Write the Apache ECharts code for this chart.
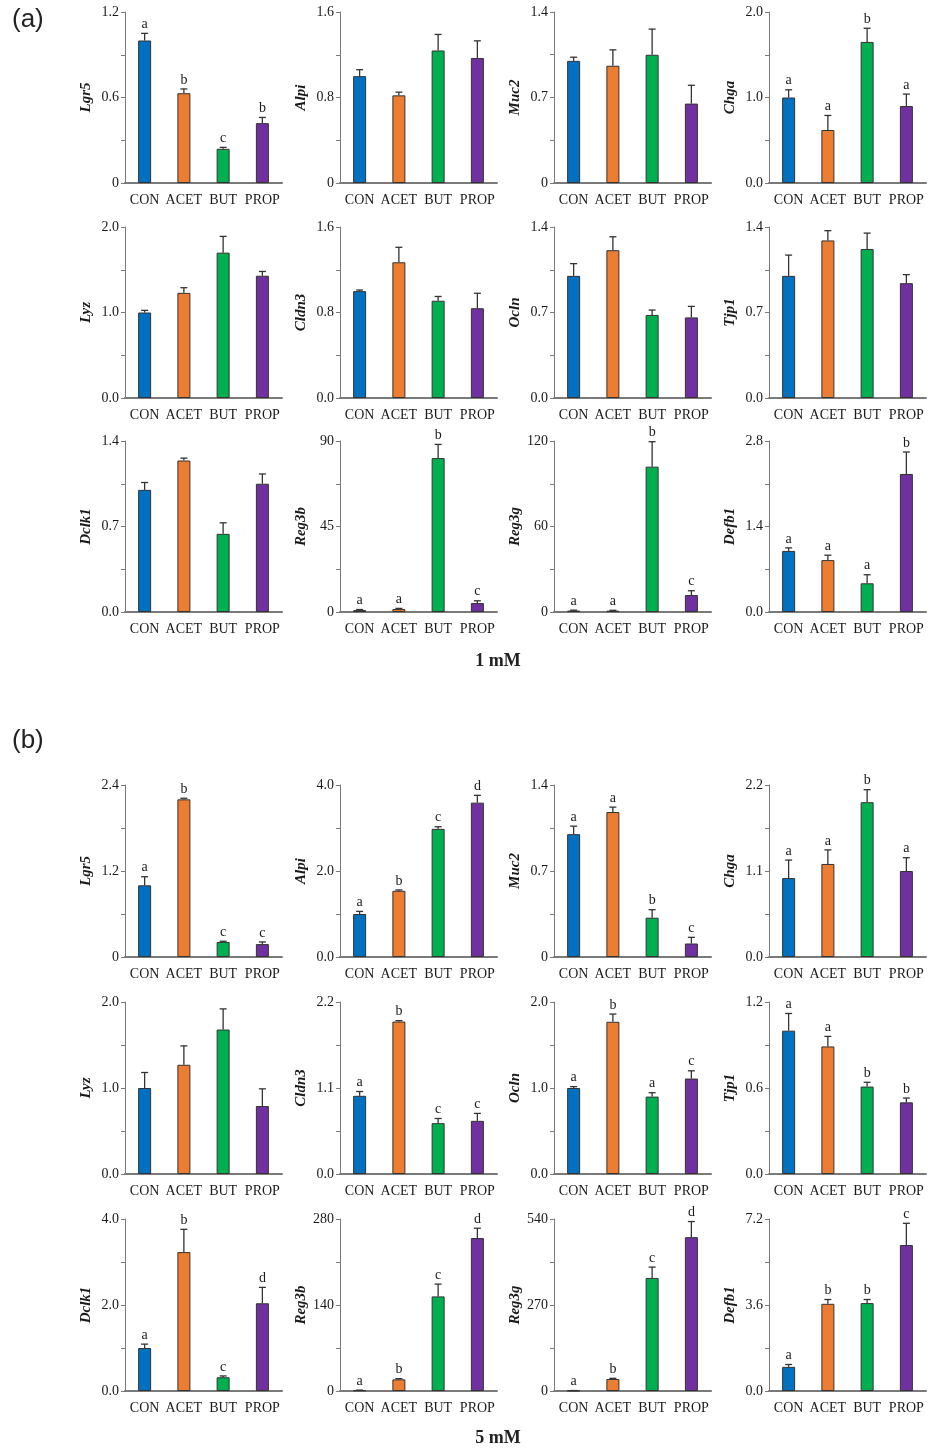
<!DOCTYPE html>
<html>
<head>
<meta charset="utf-8">
<script src="https://cdn.jsdelivr.net/npm/echarts@6/dist/echarts.min.js"></script>
<style>
html,body{margin:0;padding:0;background:#fff;}
#chart{width:933px;height:1450px;}
</style>
</head>
<body>
<div id="chart"></div>
<script>
const CATEGORIES = ['CON', 'ACET', 'BUT', 'PROP'];
const BAR_COLORS = ['#0070C0', '#ED7D31', '#00B050', '#7030A0'];
const GENES = ['Lgr5', 'Alpi', 'Muc2', 'Chga', 'Lyz', 'Cldn3', 'Ocln', 'Tjp1', 'Dclk1', 'Reg3b', 'Reg3g', 'Defb1'];

// ---- 1 mM ----
const MEAN_1MM = [
  [1.00, 0.63, 0.24, 0.42],
  [1.00, 0.82, 1.24, 1.17],
  [1.00, 0.96, 1.05, 0.65],
  [1.00, 0.62, 1.65, 0.90],
  [1.00, 1.23, 1.70, 1.43],
  [1.00, 1.27, 0.91, 0.84],
  [1.00, 1.21, 0.68, 0.66],
  [1.00, 1.29, 1.22, 0.94],
  [1.00, 1.24, 0.64, 1.05],
  [1.0, 1.6, 81.0, 4.7],
  [1.0, 0.9, 102, 11.9],
  [1.00, 0.85, 0.47, 2.26]
];
const ERR_1MM = [
  [0.05, 0.03, 0.01, 0.04],
  [0.06, 0.03, 0.15, 0.16],
  [0.03, 0.13, 0.21, 0.15],
  [0.09, 0.17, 0.16, 0.14],
  [0.025, 0.06, 0.19, 0.05],
  [0.01, 0.14, 0.04, 0.14],
  [0.10, 0.11, 0.04, 0.09],
  [0.17, 0.08, 0.13, 0.07],
  [0.06, 0.02, 0.09, 0.08],
  [0.3, 0.3, 7.2, 1.2],
  [0.3, 0.3, 17.5, 3.0],
  [0.05, 0.08, 0.14, 0.36]
];
const LETTERS_1MM = [
  ['a', 'b', 'c', 'b'], [], [], ['a', 'a', 'b', 'a'],
  [], [], [], [],
  [], ['a', 'a', 'b', 'c'], ['a', 'a', 'b', 'c'], ['a', 'a', 'a', 'b']
];
const AXIS_MAX_1MM = [1.2, 1.6, 1.4, 2.0, 2.0, 1.6, 1.4, 1.4, 1.4, 90, 120, 2.8];
const TICK_LABELS_1MM = [
  ['0', '0.6', '1.2'], ['0', '0.8', '1.6'], ['0', '0.7', '1.4'], ['0.0', '1.0', '2.0'],
  ['0.0', '1.0', '2.0'], ['0.0', '0.8', '1.6'], ['0.0', '0.7', '1.4'], ['0.0', '0.7', '1.4'],
  ['0.0', '0.7', '1.4'], ['0', '45', '90'], ['0', '60', '120'], ['0.0', '1.4', '2.8']
];

// ---- 5 mM ----
const MEAN_5MM = [
  [1.00, 2.20, 0.21, 0.18],
  [1.00, 1.54, 2.98, 3.59],
  [1.00, 1.18, 0.32, 0.11],
  [1.01, 1.19, 1.98, 1.10],
  [1.00, 1.27, 1.68, 0.79],
  [1.00, 1.95, 0.65, 0.68],
  [1.00, 1.77, 0.90, 1.11],
  [1.00, 0.89, 0.61, 0.50],
  [1.00, 3.23, 0.32, 2.04],
  [1.0, 19.0, 154, 249],
  [1.0, 37.7, 355, 483],
  [1.01, 3.65, 3.68, 6.11]
];
const ERR_5MM = [
  [0.12, 0.015, 0.01, 0.03],
  [0.06, 0.02, 0.05, 0.17],
  [0.065, 0.04, 0.065, 0.05],
  [0.23, 0.18, 0.16, 0.17],
  [0.18, 0.22, 0.24, 0.20],
  [0.055, 0.012, 0.06, 0.095],
  [0.016, 0.09, 0.045, 0.09],
  [0.12, 0.07, 0.03, 0.03],
  [0.09, 0.53, 0.03, 0.37],
  [0.5, 1.1, 20, 16],
  [0.5, 2.1, 34, 49],
  [0.10, 0.18, 0.15, 0.91]
];
const LETTERS_5MM = [
  ['a', 'b', 'c', 'c'], ['a', 'b', 'c', 'd'], ['a', 'a', 'b', 'c'], ['a', 'a', 'b', 'a'],
  [], ['a', 'b', 'c', 'c'], ['a', 'b', 'a', 'c'], ['a', 'a', 'b', 'b'],
  ['a', 'b', 'c', 'd'], ['a', 'b', 'c', 'd'], ['a', 'b', 'c', 'd'], ['a', 'b', 'b', 'c']
];
const AXIS_MAX_5MM = [2.4, 4.0, 1.4, 2.2, 2.0, 2.2, 2.0, 1.2, 4.0, 280, 540, 7.2];
const TICK_LABELS_5MM = [
  ['0', '1.2', '2.4'], ['0.0', '2.0', '4.0'], ['0', '0.7', '1.4'], ['0.0', '1.1', '2.2'],
  ['0.0', '1.0', '2.0'], ['0.0', '1.1', '2.2'], ['0.0', '1.0', '2.0'], ['0.0', '0.6', '1.2'],
  ['0.0', '2.0', '4.0'], ['0', '140', '280'], ['0', '270', '540'], ['0.0', '3.6', '7.2']
];

const SERIF = '"Liberation Serif", "Times New Roman", serif';

const panels = [
  { means: MEAN_1MM, errs: ERR_1MM, letters: LETTERS_1MM, maxes: AXIS_MAX_1MM, ticks: TICK_LABELS_1MM, tops: [12, 227, 441], h: 171 },
  { means: MEAN_5MM, errs: ERR_5MM, letters: LETTERS_5MM, maxes: AXIS_MAX_5MM, ticks: TICK_LABELS_5MM, tops: [785, 1002, 1219], h: 172 }
];
const colLefts = [125, 340, 554, 769];
const plotW = 157;

const grid = [], xAxis = [], yAxis = [], series = [];
let gi = 0;
panels.forEach(function (p) {
  for (let g = 0; g < 12; g++) {
    const row = Math.floor(g / 4), col = g % 4;
    grid.push({ left: colLefts[col], top: p.tops[row], width: plotW, height: p.h, containLabel: false });
    xAxis.push({
      type: 'category', gridIndex: gi, data: CATEGORIES,
      axisLine: { lineStyle: { color: '#7a7a7a', width: 2 } },
      axisTick: { show: false },
      axisLabel: { color: '#1a1a1a', fontFamily: SERIF, fontSize: 14, margin: 10, interval: 0 }
    });
    const labels = p.ticks[g];
    const mx = p.maxes[g];
    yAxis.push({
      type: 'value', gridIndex: gi, min: 0, max: mx, interval: mx / 4,
      name: GENES[g], nameLocation: 'middle', nameGap: 31,
      nameTextStyle: { fontFamily: SERIF, fontStyle: 'italic', fontWeight: 'bold', fontSize: 15, color: '#1a1a1a' },
      axisLine: { show: true, lineStyle: { color: '#7a7a7a', width: 1 } },
      axisTick: { show: true, length: 4, inside: false, lineStyle: { color: '#7a7a7a' } },
      splitLine: { show: false },
      axisLabel: {
        color: '#1a1a1a', fontFamily: SERIF, fontSize: 14, margin: 6, showMinLabel: true, showMaxLabel: true,
        formatter: function (v, idx) {
          if (idx === 0) return labels[0];
          if (idx === 2) return labels[1];
          if (idx === 4) return labels[2];
          return '';
        }
      }
    });
    const means = p.means[g], errs = p.errs[g], lets = p.letters[g];
    series.push({
      type: 'bar', xAxisIndex: gi, yAxisIndex: gi, barWidth: 13,
      data: means.map(function (v, i) {
        return { value: v, itemStyle: { color: BAR_COLORS[i], borderColor: '#333', borderWidth: 1 } };
      }),
      animation: false, silent: true
    });
    series.push({
      type: 'custom', xAxisIndex: gi, yAxisIndex: gi, z: 5, animation: false, silent: true,
      data: means.map(function (v, i) { return [i, v, errs[i]]; }),
      renderItem: function (params, api) {
        const x = api.value(0), m = api.value(1), e = api.value(2);
        const p0 = api.coord([x, m]);
        const p1 = api.coord([x, m + e]);
        const st = { stroke: '#333333', lineWidth: 1.3 };
        const children = [
          { type: 'line', shape: { x1: p0[0], y1: p0[1], x2: p1[0], y2: p1[1] }, style: st },
          { type: 'line', shape: { x1: p1[0] - 3.5, y1: p1[1], x2: p1[0] + 3.5, y2: p1[1] }, style: st }
        ];
        const letter = lets[params.dataIndex];
        if (letter) {
          children.push({
            type: 'text',
            style: { text: letter, x: p1[0], y: p1[1] - 2, align: 'center', verticalAlign: 'bottom',
              fontFamily: SERIF, fontSize: 14, fill: '#1a1a1a' }
          });
        }
        return { type: 'group', children: children };
      }
    });
    gi++;
  }
});

const chart = echarts.init(document.getElementById('chart'), null, { renderer: 'canvas' });
chart.setOption({
  backgroundColor: '#ffffff',
  animation: false,
  grid: grid, xAxis: xAxis, yAxis: yAxis, series: series,
  graphic: [
    { type: 'text', left: 12, top: 7, style: { text: '(a)', fontFamily: '"Liberation Sans", Arial, sans-serif', fontSize: 26, fill: '#222' } },
    { type: 'text', left: 12, top: 728, style: { text: '(b)', fontFamily: '"Liberation Sans", Arial, sans-serif', fontSize: 26, fill: '#222' } },
    { type: 'text', x: 498, y: 661, style: { text: '1 mM', align: 'center', verticalAlign: 'middle', fontFamily: SERIF, fontWeight: 'bold', fontSize: 18, fill: '#222' } },
    { type: 'text', x: 498, y: 1438, style: { text: '5 mM', align: 'center', verticalAlign: 'middle', fontFamily: SERIF, fontWeight: 'bold', fontSize: 18, fill: '#222' } }
  ]
});
</script>
</body>
</html>
